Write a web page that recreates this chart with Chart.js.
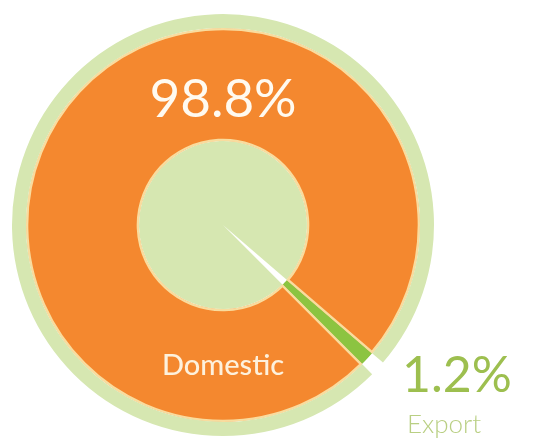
<!DOCTYPE html>
<html>
<head>
<meta charset="utf-8">
<script src="https://cdn.jsdelivr.net/npm/chart.js@4/dist/chart.umd.min.js"></script>
<style>
  html, body { margin: 0; padding: 0; background: #ffffff; }
  #wrap { width: 533px; height: 443px; }
</style>
</head>
<body>
<div id="wrap"><canvas id="canvas"></canvas></div>
<script>
// share of sales, export slice first so the rotation puts it at lower right
var categories = ["Export", "Domestic"];
var shares = [1.2, 98.8];

var orange = "#f4882f";
var paleGreen = "#d6e7b1";
var green = "#8cc441";
var edge = "#f9dc9e";

function pct(v) {
    return v.toFixed(1) + "%";
}

// draws the percentage and category texts on top of the rings
var labelPlugin = {
    id: "sliceLabels",
    afterDraw: function (chart) {
        var ctx = chart.ctx;
        var meta = chart.getDatasetMeta(1);
        var cx = meta.data[0].x;
        ctx.save();
        ctx.textAlign = "center";
        ctx.textBaseline = "alphabetic";

        // domestic, inside the orange ring
        ctx.fillStyle = "#fffaf0";
        ctx.font = "400 53px Lato";
        ctx.fillText(pct(shares[1]), cx, 117);
        ctx.fillStyle = "#fdf1dd";
        ctx.font = "500 29px Lato";
        ctx.fillText(categories[1], cx, 375);

        // export, outside the rim next to its slice
        ctx.textAlign = "left";
        ctx.fillStyle = "#9dbf4f";
        ctx.font = "400 50px Lato";
        ctx.fillText(pct(shares[0]), 402, 392);
        ctx.fillStyle = "#b9cf83";
        ctx.font = "300 26px Lato";
        ctx.fillText(categories[0], 407, 433);
        ctx.restore();
    }
};

var ctx = document.getElementById("canvas").getContext("2d");
var myChart = new Chart(ctx, {
    type: "doughnut",
    data: {
        labels: categories,
        datasets: [
            {
                // thin outer rim, open where the export slice sits
                data: shares,
                backgroundColor: ["#ffffff", paleGreen],
                borderWidth: 0,
                weight: 14
            },
            {
                data: shares,
                backgroundColor: [green, orange],
                borderColor: [green, edge],
                borderWidth: [0, 2],
                borderAlign: "inner",
                weight: 113
            },
            {
                // centre disc with a white needle pointing at the export slice
                data: shares,
                backgroundColor: ["#ffffff", paleGreen],
                borderWidth: 0,
                weight: 84
            }
        ]
    },
    options: {
        responsive: true,
        maintainAspectRatio: false,
        animation: false,
        cutout: 0,
        rotation: 130.7,
        layout: {
            padding: { left: 12, top: 14, right: 99, bottom: 7 }
        },
        plugins: {
            legend: { display: false },
            tooltip: { enabled: false }
        }
    },
    plugins: [labelPlugin]
});
</script>
</body>
</html>
